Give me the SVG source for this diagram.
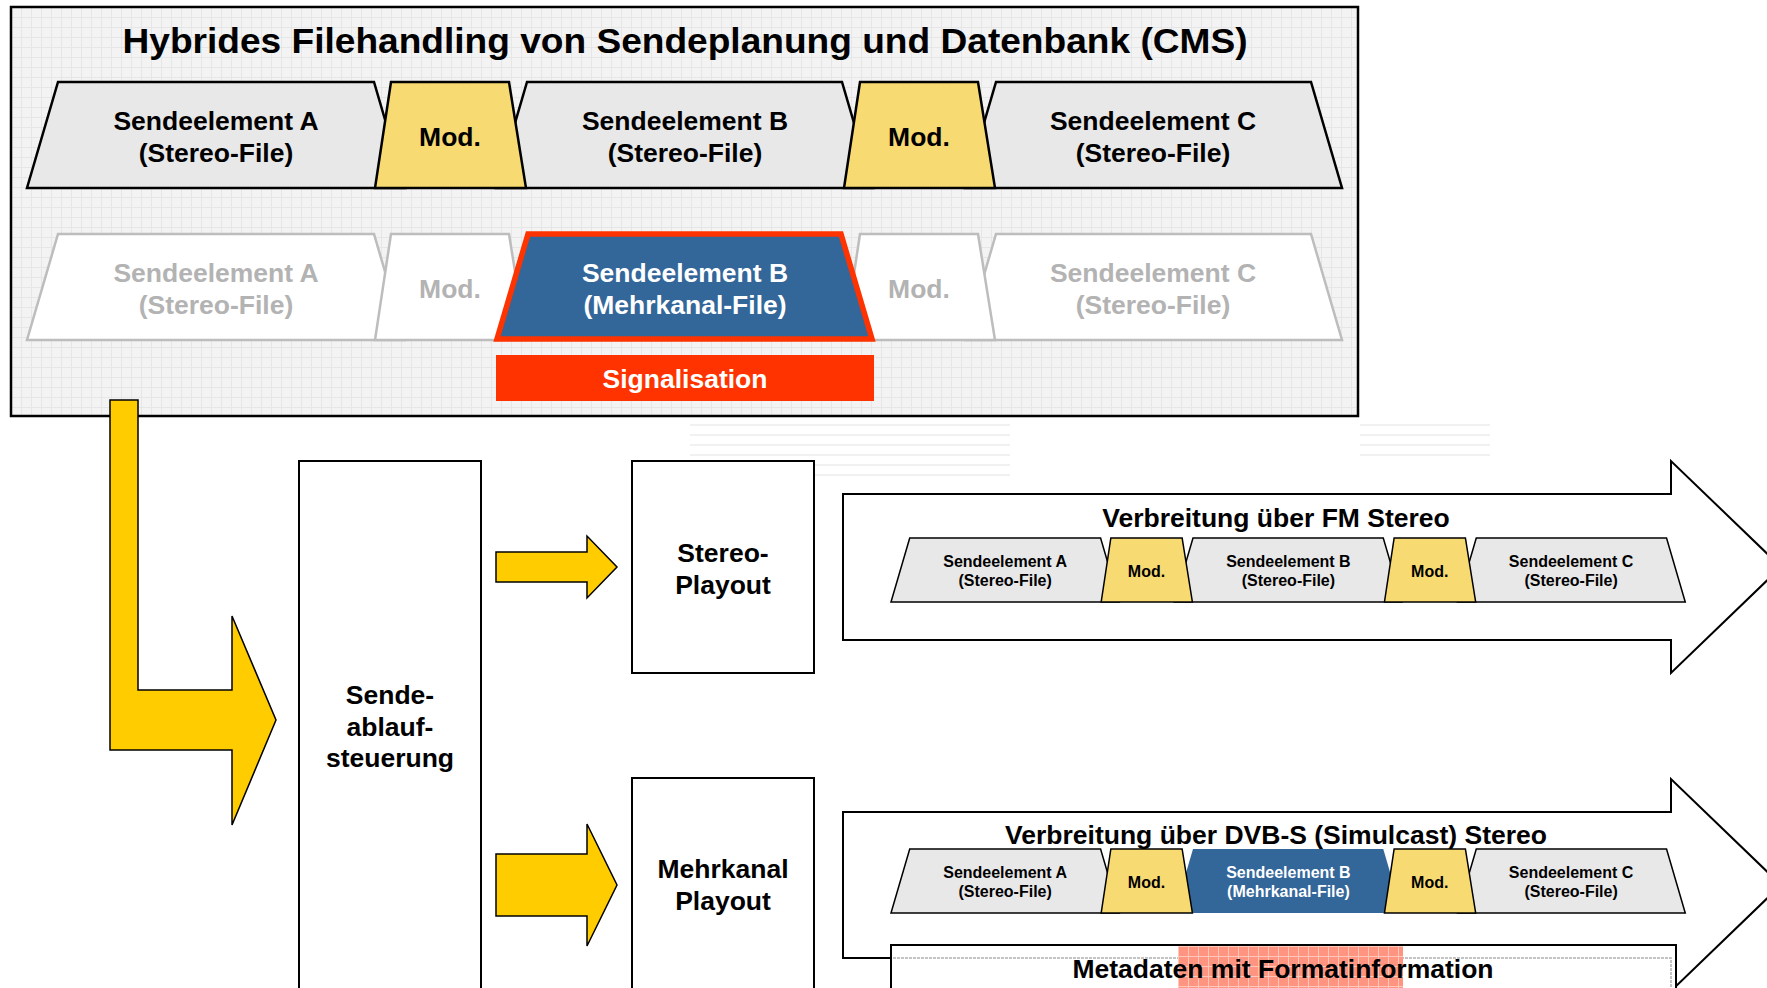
<svg xmlns="http://www.w3.org/2000/svg" width="1767" height="988" viewBox="0 0 1767 988">
<defs>
<pattern id="grid" x="11" y="7" width="10" height="10" patternUnits="userSpaceOnUse">
<rect width="10" height="10" fill="#f3f3f3"/>
<path d="M0,0.5 H10 M0.5,0 V10" stroke="#e6e6e6" stroke-width="1" fill="none"/>
</pattern>
<pattern id="pinkgrid" x="1178" y="946" width="10" height="10" patternUnits="userSpaceOnUse">
<rect width="10" height="10" fill="#ff9580"/>
<path d="M0,0.5 H10 M0.5,0 V10" stroke="#ffc8bb" stroke-width="1" fill="none"/>
</pattern>
<pattern id="stripes" width="10" height="10" patternUnits="userSpaceOnUse">
<rect width="10" height="10" fill="#ffffff"/>
<rect y="4" width="10" height="2" fill="#f1f1f1"/>
</pattern>
<path id="seA" d="M58,82 L374,82 L405,188 L27,188 Z"/>
<path id="seB" d="M527,82 L842,82 L873,188 L496,188 Z"/>
<path id="seC" d="M996,82 L1311,82 L1342,188 L965,188 Z"/>
<path id="mod1" d="M391,82 L509,82 L526,188 L375,188 Z"/>
<path id="mod2" d="M860,82 L978,82 L995,188 L844,188 Z"/>
</defs>
<style>
.t{font-family:"Liberation Sans",Arial,sans-serif;font-weight:bold;text-anchor:middle;fill:#000}
.f26{font-size:26.5px}
.gray{fill:#b3b3b3}
.white{fill:#ffffff}
.se{fill:#e8e8e8;stroke:#000;stroke-width:2.5;stroke-linejoin:miter}
.mod{fill:#f8da72;stroke:#000;stroke-width:2.5}
.ghost{fill:#ffffff;stroke:#bdbdbd;stroke-width:2.5}
.blue{fill:#336699}
.box{fill:#ffffff;stroke:#000;stroke-width:2}
.yel{fill:#ffcc00;stroke:#000;stroke-width:1.5;stroke-linejoin:miter}
</style>
<rect width="1767" height="988" fill="#ffffff"/>
<!-- faint background stripes -->
<rect x="690" y="418" width="320" height="60" fill="url(#stripes)"/>
<rect x="1360" y="418" width="130" height="40" fill="url(#stripes)"/>

<g id="cms">
<rect x="11" y="7" width="1347" height="409" fill="url(#grid)" stroke="#000" stroke-width="2.5"/>
<text class="t" x="685" y="53" font-size="35" textLength="1125" lengthAdjust="spacingAndGlyphs">Hybrides Filehandling von Sendeplanung und Datenbank (CMS)</text>
</g>

<g id="row1">
<use href="#seA" class="se"/>
<use href="#seB" class="se"/>
<use href="#seC" class="se"/>
<use href="#mod1" class="mod"/>
<use href="#mod2" class="mod"/>
<text class="t f26" x="216" y="130">Sendeelement A</text>
<text class="t f26" x="216" y="162">(Stereo-File)</text>
<text class="t f26" x="450" y="146">Mod.</text>
<text class="t f26" x="685" y="130">Sendeelement B</text>
<text class="t f26" x="685" y="162">(Stereo-File)</text>
<text class="t f26" x="919" y="146">Mod.</text>
<text class="t f26" x="1153" y="130">Sendeelement C</text>
<text class="t f26" x="1153" y="162">(Stereo-File)</text>
</g>

<g id="row2" transform="translate(0,152)">
<use href="#seA" class="ghost"/>
<use href="#seC" class="ghost"/>
<use href="#mod1" class="ghost"/>
<use href="#mod2" class="ghost"/>
<path d="M528,82 L841,82 L872,187 L497,187 Z" fill="#336699" stroke="#ff3300" stroke-width="5.5" stroke-linejoin="miter"/>
<text class="t f26 gray" x="216" y="130">Sendeelement A</text>
<text class="t f26 gray" x="216" y="162">(Stereo-File)</text>
<text class="t f26 gray" x="450" y="146">Mod.</text>
<text class="t f26 white" x="685" y="130">Sendeelement B</text>
<text class="t f26 white" x="685" y="162">(Mehrkanal-File)</text>
<text class="t f26 gray" x="919" y="146">Mod.</text>
<text class="t f26 gray" x="1153" y="130">Sendeelement C</text>
<text class="t f26 gray" x="1153" y="162">(Stereo-File)</text>
</g>

<g id="signalisation">
<rect x="496" y="355" width="378" height="46" fill="#ff3300"/>
<text class="t f26 white" x="685" y="388">Signalisation</text>
</g>

<g id="connectors">
<path class="yel" d="M110,400 L138,400 L138,690 L232,690 L232,616 L276,720 L232,825 L232,750 L110,750 Z"/>
<path class="yel" d="M496,552 L587,552 L587,536 L617,567 L587,598 L587,582 L496,582 Z"/>
<path class="yel" d="M496,854 L587,854 L587,824 L617,885 L587,946 L587,916 L496,916 Z"/>
</g>

<g id="sendeablauf">
<rect class="box" x="299" y="461" width="182" height="560"/>
<text class="t f26" x="390" y="704">Sende-</text>
<text class="t f26" x="390" y="736">ablauf-</text>
<text class="t f26" x="390" y="767">steuerung</text>
</g>

<g id="stereo-playout">
<rect class="box" x="632" y="461" width="182" height="212"/>
<text class="t f26" x="723" y="562">Stereo-</text>
<text class="t f26" x="723" y="594">Playout</text>
</g>

<g id="mehrkanal-playout">
<rect class="box" x="632" y="778" width="182" height="240"/>
<text class="t f26" x="723" y="878">Mehrkanal</text>
<text class="t f26" x="723" y="910">Playout</text>
</g>

<g id="fm">
<path class="box" d="M843,494 L1671,494 L1671,461 L1781,567 L1671,673 L1671,640 L843,640 Z"/>
<text class="t f26" x="1276" y="527">Verbreitung über FM Stereo</text>
<g transform="translate(891,602) scale(0.604) translate(-27,-188)">
<use href="#seA" class="se" stroke-width="2"/>
<use href="#seB" class="se" stroke-width="2"/>
<use href="#seC" class="se" stroke-width="2"/>
<use href="#mod1" class="mod" stroke-width="2"/>
<use href="#mod2" class="mod" stroke-width="2"/>
<text class="t f26" x="216" y="130">Sendeelement A</text>
<text class="t f26" x="216" y="162">(Stereo-File)</text>
<text class="t f26" x="450" y="146">Mod.</text>
<text class="t f26" x="685" y="130">Sendeelement B</text>
<text class="t f26" x="685" y="162">(Stereo-File)</text>
<text class="t f26" x="919" y="146">Mod.</text>
<text class="t f26" x="1153" y="130">Sendeelement C</text>
<text class="t f26" x="1153" y="162">(Stereo-File)</text>
</g>
</g>

<g id="dvb">
<path class="box" d="M843,812 L1671,812 L1671,779 L1781,885 L1671,991 L1671,958 L843,958 Z"/>
<text class="t f26" x="1276" y="844">Verbreitung über DVB-S (Simulcast) Stereo</text>
<g transform="translate(891,913) scale(0.604) translate(-27,-188)">
<use href="#seA" class="se" stroke-width="2"/>
<use href="#seB" class="blue"/>
<use href="#seC" class="se" stroke-width="2"/>
<use href="#mod1" class="mod" stroke-width="2"/>
<use href="#mod2" class="mod" stroke-width="2"/>
<text class="t f26" x="216" y="130">Sendeelement A</text>
<text class="t f26" x="216" y="162">(Stereo-File)</text>
<text class="t f26" x="450" y="146">Mod.</text>
<text class="t f26 white" x="685" y="130">Sendeelement B</text>
<text class="t f26 white" x="685" y="162">(Mehrkanal-File)</text>
<text class="t f26" x="919" y="146">Mod.</text>
<text class="t f26" x="1153" y="130">Sendeelement C</text>
<text class="t f26" x="1153" y="162">(Stereo-File)</text>
</g>
</g>

<g id="metadaten">
<rect class="box" x="891" y="945" width="785" height="60"/>
<path d="M893,958 H1671 V990" fill="none" stroke="#b0b0b0" stroke-width="1.5" stroke-dasharray="3,1"/>
<rect x="1178" y="946" width="225" height="50" fill="url(#pinkgrid)"/>
<text class="t f26" x="1283" y="978">Metadaten mit Formatinformation</text>
</g>
</svg>
